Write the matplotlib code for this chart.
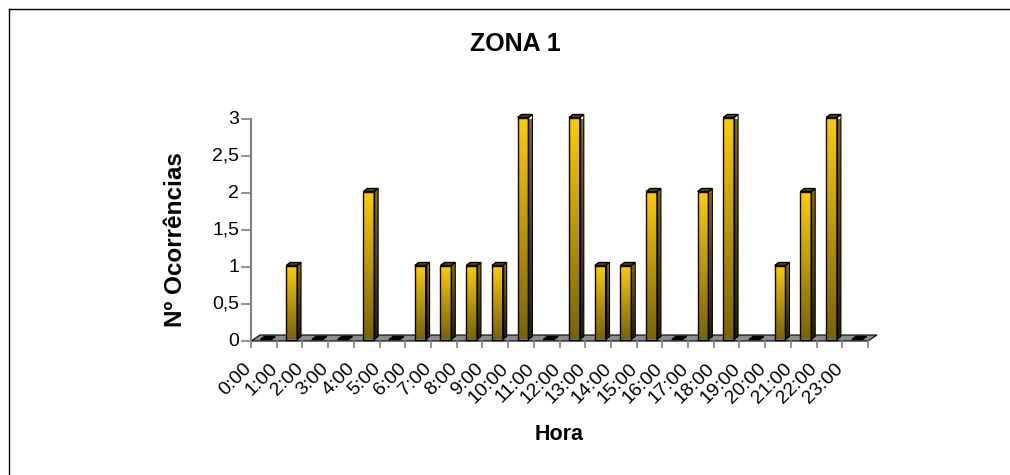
"""ZONA 1: ocorrências por hora (3D column chart, Excel style)."""
import matplotlib
matplotlib.use("Agg")
import matplotlib.pyplot as plt
import numpy as np
from matplotlib.colors import LinearSegmentedColormap
from matplotlib.patches import Polygon
from matplotlib.lines import Line2D
from matplotlib.transforms import offset_copy

plt.rcParams["font.family"] = ["Liberation Sans", "DejaVu Sans"]

HOURS = ["0:00", "1:00", "2:00", "3:00", "4:00", "5:00", "6:00", "7:00",
         "8:00", "9:00", "10:00", "11:00", "12:00", "13:00", "14:00", "15:00",
         "16:00", "17:00", "18:00", "19:00", "20:00", "21:00", "22:00", "23:00"]
COUNTS = [0, 1, 0, 0, 2, 0, 1, 1, 1, 1, 3, 0, 3, 1, 1, 2, 0, 2, 3, 0, 1, 2, 3, 0]
YTICKS = [0, 0.5, 1, 1.5, 2, 2.5, 3]
YTICK_LABELS = ["0", "0,5", "1", "1,5", "2", "2,5", "3"]

W, H = 1010, 475
PX_X = 25.7   # pixels per category
PX_Y = 74.0   # pixels per unit

fig = plt.figure(figsize=(W / 100, H / 100), dpi=100)
ax = fig.add_axes([251 / W, 1 - 341 / H, 617 / W, 222 / H])
ax.set_axis_off()

front_cmap = LinearSegmentedColormap.from_list("front", ["#7a6400", "#ffcc00"])
side_cmap = LinearSegmentedColormap.from_list("side", ["#262000", "#8a7200"])
grad = np.linspace(0, 1, 128).reshape(-1, 1)

# floor
fdx, fdy = 9 / PX_X, 6 / PX_Y
n = len(HOURS)
floor = Polygon([(0, 0), (n, 0), (n + fdx, fdy), (fdx, fdy)], closed=True,
                facecolor="#8c8c8c", edgecolor="black", lw=0.8, zorder=1, clip_on=False)
ax.add_patch(floor)

# y axis + ticks
ax.plot([0, 0], [0, 3], color="#808080", lw=1.5, zorder=2, clip_on=False)
tick_len = 9 / PX_X
for v, lab in zip(YTICKS, YTICK_LABELS):
    ax.plot([-tick_len, 0], [v, v], color="#808080", lw=1.2, clip_on=False)
    ax.text(0, v, lab, fontsize=14, ha="right", va="center",
            transform=offset_copy(ax.transData, fig, x=-12, y=0, units="dots"))

# x ticks + labels
for i in range(n + 1):
    ax.plot([i, i], [0, -6 / PX_Y], color="#808080", lw=1.2, clip_on=False)
for i, lab in enumerate(HOURS):
    ax.text(i, 0, lab, fontsize=14, rotation=45, rotation_mode="anchor",
            ha="right", va="top",
            transform=offset_copy(ax.transData, fig, x=-8, y=-19, units="dots"))

# bars
bx, bw = 0.37, 0.42
base = 1.5 / PX_Y
ddx, ddy = 4 / PX_X, 3 / PX_Y
for i, v in enumerate(COUNTS):
    x0, x1 = i + bx, i + bx + bw
    top = base + v
    if v > 0:
        ax.imshow(grad, extent=[x0, x1, base, top], origin="lower",
                  cmap=front_cmap, aspect="auto", zorder=3, clip_on=False)
        ax.add_patch(Polygon([(x0, base), (x1, base), (x1, top), (x0, top)],
                             closed=True, fill=False, edgecolor="black", lw=1.0,
                             zorder=4, clip_on=False))
        side = Polygon([(x1, base), (x1 + ddx, base + ddy), (x1 + ddx, top + ddy), (x1, top)],
                       closed=True, fill=False, edgecolor="black", lw=0.8,
                       zorder=4, clip_on=False)
        ax.add_patch(side)
        im = ax.imshow(grad, extent=[x1, x1 + ddx, base, top + ddy], origin="lower",
                       cmap=side_cmap, aspect="auto", zorder=3)
        im.set_clip_path(side)
    ax.add_patch(Polygon([(x0, top), (x1, top), (x1 + ddx, top + ddy), (x0 + ddx, top + ddy)],
                         closed=True, facecolor="#5c4c00" if v > 0 else "black",
                         edgecolor="black", lw=1.0, zorder=5, clip_on=False))

ax.set_xlim(0, n)
ax.set_ylim(0, 3)

# titles
fig.text(515 / W, 1 - 44 / H, "ZONA 1", fontsize=18, fontweight="bold", ha="center", va="center")
fig.text(176 / W, 1 - 240 / H, "Nº Ocorrências", fontsize=17.5, fontweight="bold",
         rotation=90, ha="center", va="center")
fig.text(559 / W, 1 - 434 / H, "Hora", fontsize=15.5, fontweight="bold", ha="center", va="center")

# chart border (left and top visible)
fig.add_artist(Line2D([9 / W, 9 / W], [0, 1 - 9 / H], transform=fig.transFigure, color="black", lw=1))
fig.add_artist(Line2D([9 / W, 1], [1 - 9 / H, 1 - 9 / H], transform=fig.transFigure, color="black", lw=1))

fig.savefig("out.png", dpi=100)
